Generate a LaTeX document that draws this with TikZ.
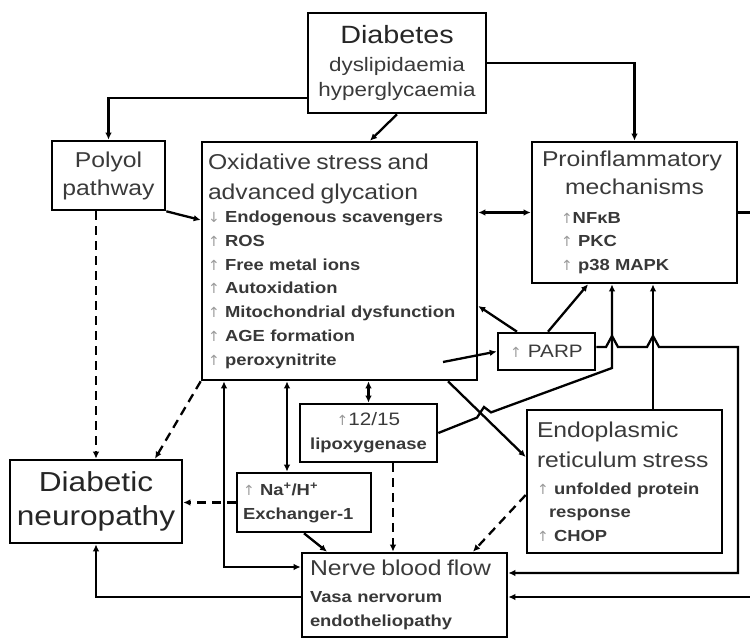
\documentclass[tikz,border=0pt]{standalone}
\usepackage{fontspec}
\setmainfont{Liberation Sans}[FakeStretch=1.15]
\newfontfamily\arrfont{DejaVu Sans}
\usepackage{tikz}
\usetikzlibrary{arrows.meta}
\definecolor{hdgray}{HTML}{3A3A3A}
\definecolor{upgray}{HTML}{9A9A9A}
\newcommand\hdfont{\fontsize{21.5}{28}\selectfont\mdseries\color{hdgray}}
\newcommand\lifont{\fontsize{16}{23.7}\selectfont\bfseries\color{black!78}}
\newcommand\uparr{{\fontsize{14}{14}\selectfont\arrfont\mdseries\color{upgray}↑}}
\newcommand\dnarr{{\fontsize{14}{14}\selectfont\arrfont\mdseries\color{upgray}↓}}

\begin{document}
\begin{tikzpicture}[x=1pt,y=-1pt]
\tikzstyle{box}=[draw,line width=2.6pt,inner ysep=0pt,font=\lifont]
\tikzstyle{link}=[line width=2.3pt,-{Latex[length=7pt,width=6.5pt]}]
\tikzstyle{both}=[line width=2.3pt,{Latex[length=7pt,width=6.5pt]}-{Latex[length=7pt,width=6.5pt]}]
\tikzstyle{dashlink}=[link,dash pattern=on 9pt off 6pt]
\useasboundingbox (0,0) rectangle (750,639);

\node[box,minimum width=178pt,minimum height=100pt,inner xsep=5pt,text width=168pt,align=center,
  font=\fontsize{19.5}{25}\selectfont\color{hdgray}] (diab) at (397,63)
  {{\fontsize{25}{25}\selectfont\color{black!85}Diabetes}\\[3pt]dyslipidaemia\\hyperglycaemia};
\node[box,minimum width=113pt,minimum height=69pt,inner xsep=5pt,text width=103pt,align=center,
  font=\hdfont] (polyol) at (108.5,175.5) {Polyol\\pathway};
\node[box,minimum width=275pt,minimum height=238pt,inner xsep=6pt,text width=263pt,align=left] (oxid) at (339.5,261)
  {{\hdfont Oxidative stress and}\\[6.3pt]
   {\hdfont advanced glycation}\\
   \dnarr\ Endogenous scavengers\\
   \uparr\ ROS\\
   \uparr\ Free metal ions\\
   \uparr\ Autoxidation\\
   \uparr\ Mitochondrial dysfunction\\
   \uparr\ AGE formation\\
   \uparr\ peroxynitrite};
\node[box,minimum width=205pt,minimum height=141pt,inner xsep=10pt,text width=185pt,align=left] (proinf) at (634.5,212.5)
  {{\hdfont Proinflammatory}\\[4.3pt]
   \makebox[\hsize]{\hdfont mechanisms}\\[5pt]
   \hspace*{19pt}\uparr NFκB\\
   \hspace*{19pt}\uparr\ PKC\\
   \hspace*{19pt}\uparr\ p38 MAPK};
\node[box,minimum width=97pt,minimum height=37pt,inner xsep=4pt,text width=89pt,align=center,
  font=\fontsize{18}{20}\selectfont\color{hdgray}] (parp) at (546.5,351.5) {\uparr\ PARP};
\node[box,minimum width=137pt,minimum height=58pt,inner xsep=4pt,text width=129pt,align=center] (lipox) at (368.5,433)
  {{\fontsize{18}{18}\selectfont\mdseries\color{hdgray}\uparr12/15}\\lipoxygenase};
\node[box,minimum width=195pt,minimum height=143pt,inner xsep=10pt,text width=175pt,align=left] (er) at (624.5,481.5)
  {{\hdfont Endoplasmic}\\[6.3pt]
   {\hdfont reticulum stress}\\[3.3pt]
   \uparr\ unfolded protein\\
   \hspace*{12pt}response\\
   \uparr\ CHOP};
\node[box,minimum width=134pt,minimum height=59pt,inner xsep=6pt,text width=122pt,align=left] (nhe) at (304,502.5)
  {\uparr\ Na\textsuperscript{+}/H\textsuperscript{+}\\Exchanger-1};
\node[box,minimum width=172pt,minimum height=83pt,inner xsep=6pt,text width=160pt,align=center,
  font=\fontsize{27.5}{34}\selectfont\color{black!85}] (dn) at (96,501.5) {Diabetic\\neuropathy};
\node[box,minimum width=205pt,minimum height=84pt,inner xsep=8pt,text width=189pt,align=left] (nbf) at (404.5,595)
  {{\hdfont Nerve blood flow}\\[3.3pt]
   Vasa nervorum\\
   endotheliopathy};
\coordinate (perox) at (443,362);

\draw[link] ([yshift=-35pt]diab.west) -| (polyol.north);
\draw[link] (diab.south) -- ([xshift=30.5pt]oxid.north);
\draw[link] (diab.east) -| (proinf.north);
\draw[link] (polyol.south east) -- ([yshift=41pt]oxid.west);
\draw[dashlink] (polyol.south -| dn.north) -- (dn.north);
\draw[both] (oxid.east |- proinf.west) -- (proinf.west);
\draw[link] ([xshift=-29.5pt]parp.north) -- ([yshift=-45pt]oxid.east);
\draw[link] ([xshift=1.5pt]parp.north) -- ([xshift=-46.5pt]proinf.south);
\draw[link] (perox) -- (parp.west);
\draw[link] (lipox.east) -- (477,417.6) -- (484,407) -- (491,412.4) -- (612,368) -- ([xshift=-22.5pt]proinf.south);
\draw[link] ([xshift=28.5pt]er.north) -- ([xshift=28.5pt]er.north |- proinf.south);
\draw[link] ([yshift=4.5pt]parp.east) -- (606,347) -- (612,336) -- (618,347) -- (647,347) -- (653,336) -- (659,347)
  -- (738,347) |- ([yshift=22pt]nbf.east);
\draw[link] ([xshift=108.5pt]oxid.south) -- ([yshift=24.5pt]er.west);
\draw[both] (lipox.north |- oxid.south) -- (lipox.north);
\draw[both] ([xshift=-17pt]nhe.north |- oxid.south) -- ([xshift=-17pt]nhe.north);
\draw[both] ([xshift=-115.5pt]oxid.south) |- ([yshift=28pt]nbf.west);
\draw[dashlink] (oxid.south west) -- ([xshift=59pt]dn.north);
\draw[dashlink] (nhe.west) -- (nhe.west -| dn.east);
\draw[link] (nhe.south) -- ([xshift=-77.5pt]nbf.north);
\draw[dashlink] ([xshift=24.5pt]lipox.south) -- ([xshift=24.5pt]lipox.south |- nbf.north);
\draw[dashlink] ([yshift=-13.5pt]er.west) -- ([xshift=68.5pt]nbf.north);
\draw[link] ([yshift=-2pt]nbf.west) -| (dn.south);
\draw[link] (proinf.east) -- ++(16,0) |- ([yshift=-2pt]nbf.east);
\end{tikzpicture}
\end{document}
